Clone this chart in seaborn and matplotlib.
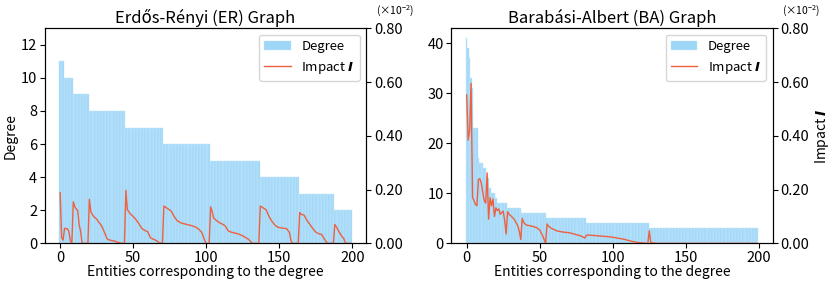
import numpy as np
import matplotlib
matplotlib.use("Agg")
import matplotlib.pyplot as plt
import seaborn as sns

# ==========================================
# DATA
# ==========================================

# ER graph: sorted degree levels and how many entities have each level
er_levels = [11, 10, 9, 8, 7, 6, 5, 4, 3, 2]
er_counts = [3, 6, 11, 25, 26, 32, 34, 27, 24, 12]

# BA graph: sorted degree levels and how many entities have each level
ba_levels = [41, 39, 37, 33, 31, 23, 17, 16, 15, 13, 11, 10, 9, 8, 7, 6, 5, 4, 3]
ba_counts = [1, 1, 1, 1, 1, 3, 1, 3, 2, 2, 1, 3, 1, 7, 10, 17, 27, 43, 75]

# impact I (units of 1e-2), entity index / value
er_impact_x = [0, 1, 2, 3, 4, 5, 6, 7, 8, 9, 10, 11, 12, 13, 14, 15, 19,
               20, 21, 22, 23, 24, 25, 26, 27, 28, 29, 30, 31, 32, 33, 35, 37, 39, 41, 42, 44,
               45, 46, 47, 48, 50, 52, 54, 56, 58, 60, 61, 62, 64, 66, 68, 70,
               71, 72, 74, 76, 78, 80, 82, 84, 87, 90, 93, 95, 97, 99, 100, 102,
               103, 104, 105, 107, 109, 111, 113, 115, 117, 120, 123, 126, 129, 131, 132, 136,
               137, 139, 141, 143, 145, 147, 149, 152, 155, 157, 158, 159, 163,
               164, 165, 167, 169, 171, 173, 175, 177, 179, 181, 183, 187,
               188, 189, 191, 193, 194, 195, 196, 199]
er_impact_y = [0.188, 0.022, 0.012, 0.056, 0.055, 0.054, 0.044, 0.010, 0.0, 0.155, 0.136, 0.128, 0.122, 0.070, 0.045, 0.0, 0.0,
               0.164, 0.118, 0.108, 0.100, 0.095, 0.090, 0.082, 0.075, 0.068, 0.058, 0.045, 0.032, 0.018, 0.014, 0.011, 0.009, 0.005, 0.002, 0.0, 0.0,
               0.197, 0.125, 0.118, 0.110, 0.100, 0.088, 0.072, 0.055, 0.048, 0.043, 0.030, 0.020, 0.015, 0.010, 0.002, 0.0,
               0.139, 0.135, 0.128, 0.120, 0.100, 0.085, 0.078, 0.074, 0.070, 0.066, 0.060, 0.052, 0.040, 0.010, 0.0, 0.0,
               0.136, 0.120, 0.095, 0.085, 0.077, 0.072, 0.065, 0.047, 0.042, 0.038, 0.033, 0.025, 0.015, 0.003, 0.0, 0.0,
               0.139, 0.132, 0.125, 0.100, 0.082, 0.068, 0.060, 0.057, 0.055, 0.040, 0.010, 0.0, 0.0,
               0.115, 0.108, 0.105, 0.085, 0.070, 0.055, 0.042, 0.036, 0.033, 0.015, 0.0, 0.0,
               0.070, 0.062, 0.042, 0.025, 0.020, 0.005, 0.0, 0.0]

ba_impact_x = [0, 1, 2, 3, 4, 5, 6, 7, 8, 9, 10, 11, 12, 13, 14, 15, 16, 17, 18, 19,
               20, 21, 22, 23, 24, 25, 26, 27, 28, 29, 30, 31, 32, 33, 34, 35, 36, 37,
               38, 39, 40, 41, 43, 46, 48, 50, 52, 53, 54, 55, 56, 58, 62, 66, 70, 74,
               78, 81, 82, 86, 92, 97, 101, 105, 108, 112, 116, 120, 124, 125, 126, 130, 199]
ba_impact_y = [0.552, 0.384, 0.420, 0.595, 0.170, 0.160, 0.145, 0.140, 0.238, 0.240, 0.225, 0.190, 0.160, 0.150, 0.262, 0.090, 0.170, 0.140, 0.165, 0.100,
               0.132, 0.122, 0.128, 0.108, 0.115, 0.120, 0.085, 0.035, 0.118, 0.108, 0.104, 0.098, 0.093, 0.085, 0.075, 0.065, 0.045, 0.014,
               0.093, 0.078, 0.072, 0.068, 0.066, 0.062, 0.058, 0.050, 0.028, 0.015, 0.0, 0.072, 0.064, 0.056, 0.046, 0.042, 0.040, 0.034,
               0.028, 0.020, 0.031, 0.030, 0.027, 0.025, 0.022, 0.018, 0.015, 0.009, 0.004, 0.002, 0.0, 0.047, 0.003, 0.0, 0.0]

# ==========================================
# STYLE
# ==========================================

plt.rcParams["font.family"] = ["Noto Sans CJK JP", "DejaVu Sans"]
plt.rcParams["mathtext.fontset"] = "custom"
plt.rcParams["mathtext.rm"] = "Noto Sans CJK JP"
plt.rcParams["mathtext.it"] = "DejaVu Sans:italic:bold"
plt.rcParams["mathtext.bf"] = "DejaVu Sans:bold"

bar_color = "#9dd6f7"
line_color = "#ee6040"
fs = 10.5

panels = [
    ("Erdős-Rényi (ER) Graph", er_levels, er_counts, er_impact_x, er_impact_y, 13),
    ("Barabási-Albert (BA) Graph", ba_levels, ba_counts, ba_impact_x, ba_impact_y, 43.05),
]

fig, axes = plt.subplots(1, 2, figsize=(8.3, 2.85), dpi=100)
fig.subplots_adjust(left=0.054, right=0.931, bottom=0.146, top=0.901, wspace=0.265)

for k, (title, levels, counts, ix, iy, ymax) in enumerate(panels):
    ax = axes[k]
    degrees = np.repeat(levels, counts)
    entities = np.arange(len(degrees))

    sns.barplot(
        x=entities, y=degrees, native_scale=True, width=1,
        color=bar_color, saturation=1, errorbar=None,
        edgecolor="#c4e6fa", linewidth=0.3, label="Degree", ax=ax
    )
    ax.set_xlim(-10.5, 209.5)
    ax.set_xticks([0, 50, 100, 150, 200])
    ax.set_xticklabels(["0", "50", "100", "150", "200"])
    ax.set_ylim(0, ymax)
    ax.set_title(title, fontsize=12, pad=4)
    ax.set_xlabel("Entities corresponding to the degree", fontsize=10, labelpad=0)
    ax.set_ylabel("Degree" if k == 0 else "", fontsize=10, labelpad=2)
    ax.tick_params(labelsize=fs, pad=2)

    ax2 = ax.twinx()
    sns.lineplot(x=ix, y=iy, color=line_color, linewidth=1,
                 label=r"Impact $I$", ax=ax2)
    ax2.set_ylim(0, 0.8)
    ax2.set_yticks([0, 0.2, 0.4, 0.6, 0.8])
    ax2.set_yticklabels(["0.00", "0.20", "0.40", "0.60", "0.80"])
    ax2.tick_params(labelsize=fs, pad=2)
    ax2.set_ylabel(r"Impact $I$" if k == 1 else "", fontsize=10, labelpad=3)
    ax2.text(1.03, 1.045, r"$(\times10^{-2})$", transform=ax2.transAxes,
             fontsize=7.5, ha="left", va="bottom")

    if ax.get_legend() is not None:
        ax.get_legend().remove()
    h1, l1 = ax.get_legend_handles_labels()
    h2, l2 = ax2.get_legend_handles_labels()
    ax2.legend(h1 + h2, l1 + l2, loc="upper right", fontsize=9.5)

plt.savefig("out.png", dpi=100)
